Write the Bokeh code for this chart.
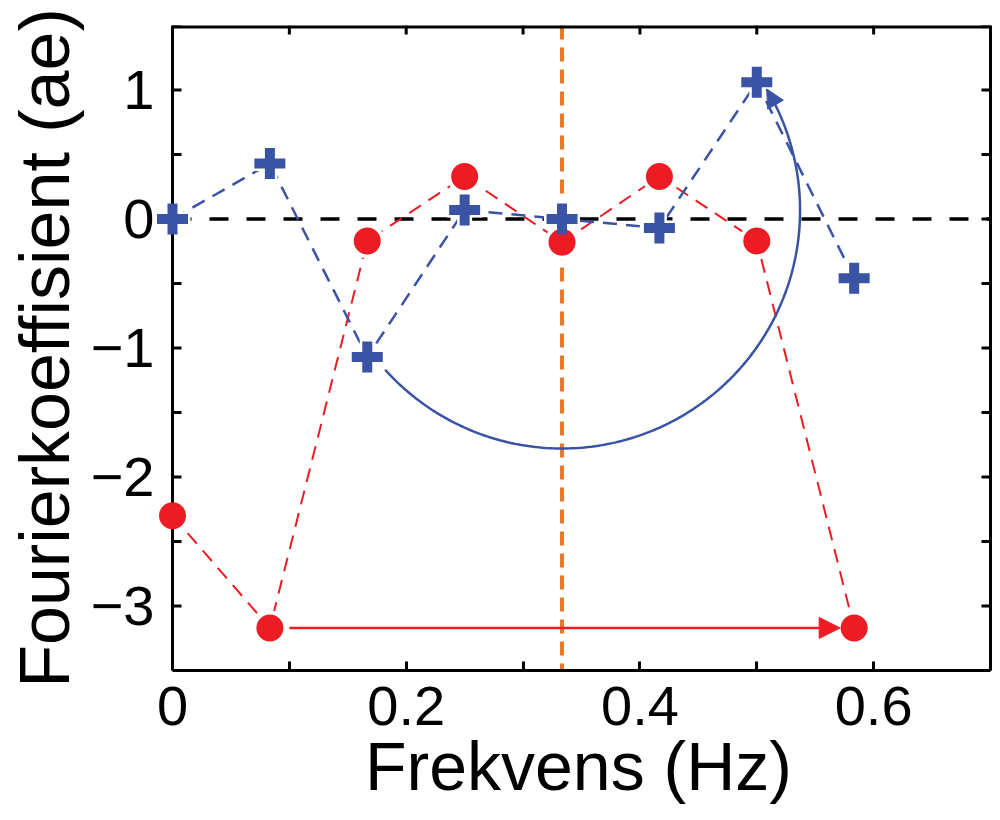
import numpy as np
from bokeh.plotting import figure
from bokeh.models import FixedTicker, Span, Arrow, NormalHead
from bokeh.embed import file_html
from bokeh.resources import INLINE

# ---- data ----
freq = [0.0, 1/12, 2/12, 3/12, 4/12, 5/12, 6/12, 7/12]
red_vals = [-2.30, -3.17, -0.17, 0.33, -0.18, 0.33, -0.17, -3.17]
blue_vals = [0.0, 0.43, -1.07, 0.07, 0.0, -0.07, 1.06, -0.46]
x_ticks = [0, 0.2, 0.4, 0.6]
x_minor = [0.1, 0.3, 0.5, 0.7]
y_ticks = [-3, -2, -1, 0, 1]
y_minor = [-3.5, -2.5, -1.5, -0.5, 0.5, 1.5]
y_tick_labels = {-3: "\u22123", -2: "\u22122", -1: "\u22121", 0: "0", 1: "1"}
x_tick_labels = {0: "0", 0.2: "0.2", 0.4: "0.4", 0.6: "0.6"}
mark_freq = 1/3
arc_center_y = 0.066
arc_rx, arc_ry = 0.2037, 1.845
arc_t0, arc_t1 = 222.0, 390.7

# axis box (data) and pixel geometry
X0, X1 = 0.0, 0.7
Y0, Y1 = -3.5, 1.5
BOX_W, BOX_H = 818, 645
PAD_L, PAD_R = 16, 10        # extra frame room so edge markers are not cut
px_x = BOX_W / (X1 - X0)
px_y = BOX_H / (Y1 - Y0)
XR0 = X0 - PAD_L / px_x
XR1 = X1 + PAD_R / px_x
TICK = 9

RED = "#ED1C24"
BLUE = "#3A53A4"
ORANGE = "#E8782A"
FONT = "Liberation Sans"

p = figure(frame_width=BOX_W + PAD_L + PAD_R, frame_height=BOX_H,
           x_range=(XR0, XR1), y_range=(Y0, Y1),
           output_backend="svg", toolbar_location=None,
           min_border_left=172 - PAD_L, min_border_right=0, min_border_top=25,
           min_border_bottom=150, x_axis_label="Frekvens (Hz)",
           y_axis_label="Fourierkoeffisient (ae)")
p.grid.visible = False
p.outline_line_color = None
p.background_fill_color = "white"
p.border_fill_color = "white"

for ax in (p.xaxis[0], p.yaxis[0]):
    ax.major_label_text_font = FONT
    ax.major_label_text_font_size = "56px"
    ax.major_label_text_color = "black"
    ax.axis_label_text_font = FONT
    ax.axis_label_text_font_style = "normal"
    ax.axis_label_text_color = "black"
    ax.major_tick_out = 0
    ax.minor_tick_out = 0

xa = p.xaxis[0]
xa.ticker = FixedTicker(ticks=x_ticks, minor_ticks=x_minor)
xa.major_label_overrides = x_tick_labels
xa.bounds = (X0, X1)
xa.axis_line_width = 3
xa.major_tick_line_width = 3
xa.minor_tick_line_width = 3
xa.major_tick_in = TICK
xa.minor_tick_in = TICK
xa.axis_label_text_font_size = "68px"
xa.major_label_standoff = 16
xa.axis_label_standoff = 0

ya = p.yaxis[0]
ya.ticker = FixedTicker(ticks=y_ticks, minor_ticks=y_minor)
ya.major_label_overrides = y_tick_labels
ya.axis_line_color = None
ya.major_tick_line_color = None
ya.minor_tick_line_color = None
ya.major_tick_in = 0
ya.minor_tick_in = 0
ya.axis_label_text_font_size = "70px"
ya.major_label_standoff = 18 - PAD_L
ya.axis_label_standoff = 4

# reference lines (under everything)
p.segment(x0=[X0], y0=[0], x1=[X1], y1=[0], line_color="black",
          line_width=3.5, line_dash="19 18", level="underlay")
p.add_layout(Span(location=mark_freq, dimension="height", line_color=ORANGE,
                  line_width=4, line_dash="14 8", level="underlay"))

# dashed series lines
p.line(freq, red_vals, line_color=RED, line_width=2, line_dash="14 9")
p.line(freq, blue_vals, line_color=BLUE, line_width=2.5, line_dash="14 9")

# blue arc from third to seventh coefficient
t = np.radians(np.linspace(arc_t0, arc_t1, 200))
arc_x = mark_freq + arc_rx * np.cos(t)
arc_y = arc_center_y + arc_ry * np.sin(t)
p.line(arc_x, arc_y, line_color=BLUE, line_width=2.5)

# white halos behind markers
p.scatter(freq, red_vals, marker="circle", size=35, fill_color="white", line_color=None)
p.scatter(freq, blue_vals, marker="cross", size=36, line_color="white", line_width=15)

# box: left and right lines, top line (half of width clipped at frame edge)
p.segment(x0=[X0, X1], y0=[Y0, Y0], x1=[X0, X1], y1=[Y1, Y1], line_color="black", line_width=3)
p.segment(x0=[X0], y0=[Y1], x1=[X1], y1=[Y1], line_color="black", line_width=6)
# inward ticks on left, right and top
yt = y_ticks + y_minor
xt = x_ticks + x_minor
p.segment(x0=[X0] * len(yt), y0=yt, x1=[X0 + TICK / px_x] * len(yt), y1=yt,
          line_color="black", line_width=3)
p.segment(x0=[X1] * len(yt), y0=yt, x1=[X1 - TICK / px_x] * len(yt), y1=yt,
          line_color="black", line_width=3)
p.segment(x0=xt, y0=[Y1] * len(xt), x1=xt, y1=[Y1 - TICK / px_y] * len(xt),
          line_color="black", line_width=3)

# markers
p.scatter(freq, red_vals, marker="circle", size=27, fill_color=RED, line_color=None)
p.scatter(freq, blue_vals, marker="cross", size=31, line_color=BLUE, line_width=10)

# red arrow (pixel offsets converted to data units)
p.add_layout(Arrow(x_start=freq[1] + 19.5 / px_x, y_start=red_vals[1],
                   x_end=freq[7] - 14.0 / px_x, y_end=red_vals[7],
                   line_color=RED, line_width=2.5,
                   end=NormalHead(size=21, fill_color=RED, line_color=RED, line_width=1)))
# arrow head at the end of the blue arc
p.add_layout(Arrow(x_start=arc_x[-4], y_start=arc_y[-4], x_end=arc_x[-1], y_end=arc_y[-1],
                   line_color=BLUE, line_width=2.5,
                   end=NormalHead(size=18, fill_color=BLUE, line_color=BLUE, line_width=1)))

open("out.html", "w").write(file_html(p, INLINE))
